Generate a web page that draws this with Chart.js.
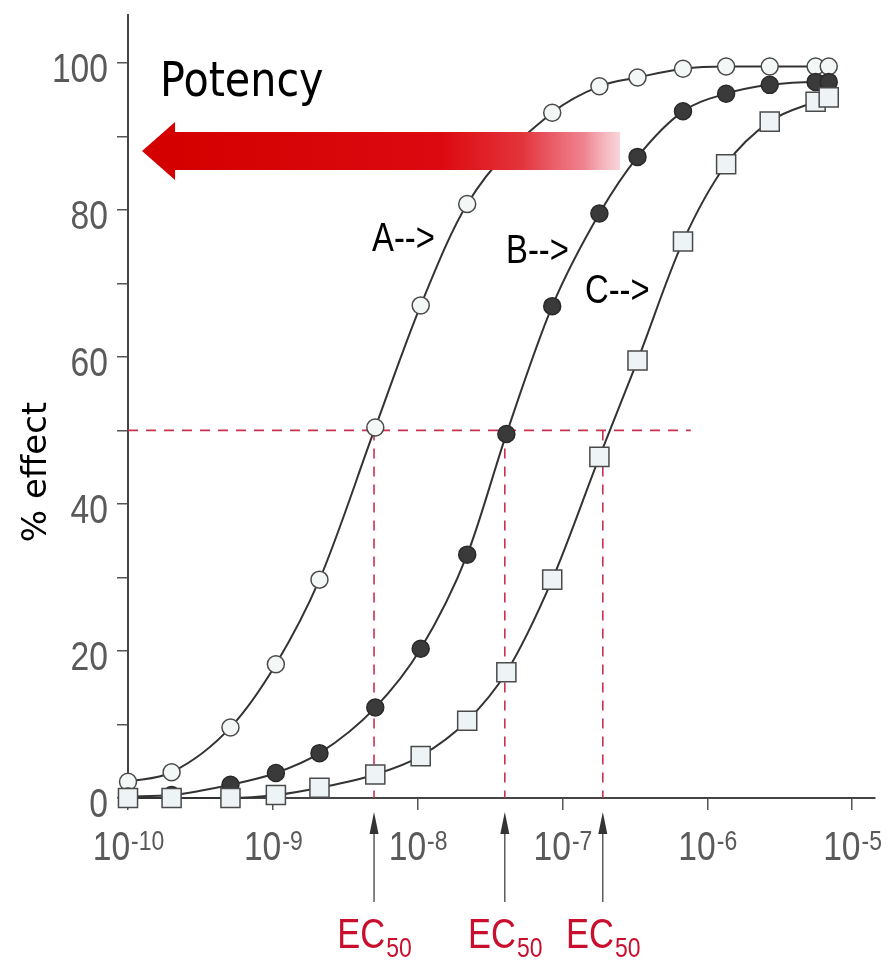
<!DOCTYPE html>
<html>
<head>
<meta charset="utf-8">
<title>Potency - dose response</title>
<script src="https://cdn.jsdelivr.net/npm/chart.js@4.4.1/dist/chart.umd.min.js"></script>
<style>
  html, body { margin: 0; padding: 0; background: #fff; }
  #wrap { width: 890px; height: 967px; }
</style>
</head>
<body>
<div id="wrap"><canvas id="grafico"></canvas></div>
<script>
// concentracoes (M) e % de efeito
const concentrations = [1.0e-10, 2.0e-10, 5.1e-10, 1.05e-9, 2.1e-9, 5.1e-9, 1.05e-8, 2.2e-8, 4.1e-8,
  8.5e-8, 1.8e-7, 3.3e-7, 6.8e-7, 1.35e-6, 2.7e-6, 5.6e-6, 6.9e-6];
const effectA = [2.2, 3.5, 9.6, 18.2, 29.7, 50.4, 67.0, 80.8, null, 93.2, 96.8, 98.0, 99.2, 99.5, 99.5, 99.5, 99.5];
const effectB = [0.2, 0.4, 1.8, 3.4, 6.1, 12.3, 20.3, 33.1, 49.5, 66.9, 79.5, 87.2, 93.4, 95.8, 97.0, 97.4, 97.4];
const effectC = [0.0, 0.0, 0.0, 0.4, 1.4, 3.2, 5.7, 10.5, 17.1, 29.7, 46.4, 59.5, 75.7, 86.2, 92.0, 94.7, 95.3];

const ec50 = [5.0e-9, 4.0e-8, 1.9e-7];
const halfEffect = 50;
const halfLineEnd = 7.7e-7;

const tickExponents = [-10, -9, -8, -7, -6, -5];
const yLabelled = [0, 20, 40, 60, 80, 100];

const seriesNames = ['A-->', 'B-->', 'C-->'];

const RED = '#c8102e';
const DASH_RED = '#c8324f';
const GRAY = '#5a5a5a';
const NARROW = 'Liberation Sans';

function pontos(valores) {
  return concentrations.map((c, i) => ({ x: c, y: valores[i] }));
}

// texto "condensado" (tipo Arial Narrow)
function textoEstreito(ctx, txt, x, y, size, align, color, sx) {
  sx = sx || 0.82;
  ctx.save();
  ctx.font = size + 'px "' + NARROW + '"';
  ctx.fillStyle = color;
  ctx.textBaseline = 'alphabetic';
  const w = ctx.measureText(txt).width * sx;
  let x0 = x;
  if (align === 'center') x0 = x - w / 2;
  if (align === 'right') x0 = x - w;
  ctx.translate(x0, y);
  ctx.scale(sx, 1);
  ctx.fillText(txt, 0, 0);
  ctx.restore();
  return w;
}

function larguraEstreita(ctx, txt, size, sx) {
  ctx.save();
  ctx.font = size + 'px "' + NARROW + '"';
  const w = ctx.measureText(txt).width * (sx || 0.82);
  ctx.restore();
  return w;
}

const anotacoes = {
  id: 'anotacoes',
  afterDatasetsDraw(chart) {
    const ctx = chart.ctx;
    const x = chart.scales.x, y = chart.scales.y;
    // seta vermelha "Potency"
    const tip = x.getPixelForValue(1.25e-10);
    const tail = x.getPixelForValue(2.5e-7);
    const cy = y.getPixelForValue(88);
    const headBase = tip + 33;
    const g = ctx.createLinearGradient(headBase, 0, tail, 0);
    g.addColorStop(0, '#d40000');
    g.addColorStop(0.6, '#dc0a10');
    g.addColorStop(0.78, '#e3343c');
    g.addColorStop(0.92, 'rgba(236,110,125,0.85)');
    g.addColorStop(1, 'rgba(242,170,180,0.5)');
    ctx.save();
    ctx.fillStyle = g;
    ctx.fillRect(headBase - 1, cy - 19, tail - headBase + 1, 38);
    ctx.fillStyle = '#d40000';
    ctx.beginPath();
    ctx.moveTo(tip, cy);
    ctx.lineTo(headBase, cy - 29);
    ctx.lineTo(headBase, cy + 29);
    ctx.closePath();
    ctx.fill();
    ctx.restore();
  },
  afterDraw(chart) {
    const ctx = chart.ctx;
    const x = chart.scales.x, y = chart.scales.y;
    const bottom = chart.chartArea.bottom;
    const left = chart.chartArea.left;

    // rotulos do eixo y
    yLabelled.forEach(v => {
      const py = y.getPixelForValue(v);
      textoEstreito(ctx, String(v), left - 20, py + 19, 41, 'right', GRAY);
    });

    // rotulos do eixo x: 10^n
    tickExponents.forEach(e => {
      const px = x.getPixelForValue(Math.pow(10, e));
      const base = '10', sup = String(e);
      const w1 = larguraEstreita(ctx, base, 41);
      const w2 = larguraEstreita(ctx, sup, 28);
      const x0 = px - (w1 + w2) / 2;
      textoEstreito(ctx, base, x0, bottom + 62, 41, 'left', GRAY);
      textoEstreito(ctx, sup, x0 + w1 + 1, bottom + 52, 28, 'left', GRAY);
    });

    // setas EC50
    ec50.forEach(v => {
      const px = x.getPixelForValue(v);
      ctx.save();
      ctx.strokeStyle = '#333';
      ctx.lineWidth = 1.2;
      ctx.beginPath();
      ctx.moveTo(px, bottom + 104);
      ctx.lineTo(px, bottom + 30);
      ctx.stroke();
      ctx.fillStyle = '#333';
      ctx.beginPath();
      ctx.moveTo(px, bottom + 14);
      ctx.lineTo(px - 4.5, bottom + 36);
      ctx.lineTo(px + 4.5, bottom + 36);
      ctx.closePath();
      ctx.fill();
      ctx.restore();
      const w1 = larguraEstreita(ctx, 'EC', 42);
      const w2 = larguraEstreita(ctx, '50', 28);
      const x0 = px - (w1 + w2) / 2;
      textoEstreito(ctx, 'EC', x0, bottom + 150, 42, 'left', RED);
      textoEstreito(ctx, '50', x0 + w1 + 1, bottom + 159, 28, 'left', RED);
    });

    // titulo do eixo y
    ctx.save();
    ctx.translate(46, 472);
    ctx.rotate(-Math.PI / 2);
    ctx.font = '34px "DejaVu Sans"';
    ctx.fillStyle = '#000';
    ctx.textAlign = 'center';
    ctx.fillText('% effect', 0, 0);
    ctx.restore();

    // "Potency"
    ctx.save();
    ctx.translate(160, 96);
    ctx.scale(0.86, 1);
    ctx.font = '48px "DejaVu Sans"';
    ctx.fillStyle = '#000';
    ctx.fillText('Potency', 0, 0);
    ctx.restore();

    // A--> B--> C-->
    const pos = [[372, 251], [506, 263], [585, 303]];
    seriesNames.forEach((n, i) => {
      textoEstreito(ctx, n, pos[i][0], pos[i][1], 40, 'left', '#000');
    });
  }
};

function criarGrafico() {
  const ctx = document.getElementById('grafico').getContext('2d');

  const curva = {
    type: 'line',
    borderColor: '#333',
    borderWidth: 2,
    cubicInterpolationMode: 'monotone',
    spanGaps: true,
    clip: false,
    pointBorderWidth: 1.5,
    pointBorderColor: '#4a4a4a'
  };

  const tracejadas = [{
    data: [{ x: 1e-10, y: halfEffect }, { x: halfLineEnd, y: halfEffect }]
  }].concat(ec50.map(v => ({ data: [{ x: v, y: halfEffect }, { x: v, y: 0 }] })))
    .map(d => Object.assign(d, {
      borderColor: DASH_RED,
      borderWidth: 1.6,
      borderDash: [10, 8],
      pointRadius: 0,
      order: 10,
      clip: false
    }));

  new Chart(ctx, {
    type: 'line',
    data: {
      datasets: [
        Object.assign({}, curva, {
          label: 'A', data: pontos(effectA), order: 3,
          pointStyle: 'circle', pointRadius: 8.5, pointBackgroundColor: '#f3f7f6'
        }),
        Object.assign({}, curva, {
          label: 'B', data: pontos(effectB), order: 2,
          pointStyle: 'circle', pointRadius: 8.5, pointBackgroundColor: '#3a3a3a', pointBorderColor: '#2a2a2a'
        }),
        Object.assign({}, curva, {
          label: 'C', data: pontos(effectC), order: 1,
          pointStyle: 'rect', pointRadius: 13.5, pointBackgroundColor: '#eef3f5'
        })
      ].concat(tracejadas)
    },
    options: {
      responsive: true,
      maintainAspectRatio: false,
      animation: false,
      layout: { padding: { left: 10, top: 10, right: 15, bottom: 0 } },
      plugins: {
        legend: { display: false },
        tooltip: { enabled: false }
      },
      scales: {
        x: {
          type: 'logarithmic',
          min: 1e-10,
          max: 1.44e-5,
          afterBuildTicks: scale => {
            scale.ticks = tickExponents.map(e => ({ value: Math.pow(10, e) }));
          },
          afterFit: scale => {
            scale.height = 169;
            scale.paddingLeft = 0;
            scale.paddingRight = 0;
          },
          border: { color: '#444', width: 2 },
          grid: { drawOnChartArea: false, drawTicks: true, tickLength: 12, color: '#555', lineWidth: 1.5 },
          ticks: { callback: () => '', autoSkip: false, maxRotation: 0 }
        },
        y: {
          min: 0,
          max: 106.5,
          afterFit: scale => {
            scale.width = 118;
            scale.paddingTop = 0;
            scale.paddingBottom = 0;
          },
          border: { color: '#444', width: 2 },
          grid: { drawOnChartArea: false, drawTicks: true, tickLength: 11, color: '#555', lineWidth: 1.5 },
          ticks: {
            stepSize: 10,
            includeBounds: false,
            callback: () => ''
          }
        }
      }
    },
    plugins: [anotacoes]
  });
}

window.onload = () => {
  criarGrafico();
};
</script>
</body>
</html>
